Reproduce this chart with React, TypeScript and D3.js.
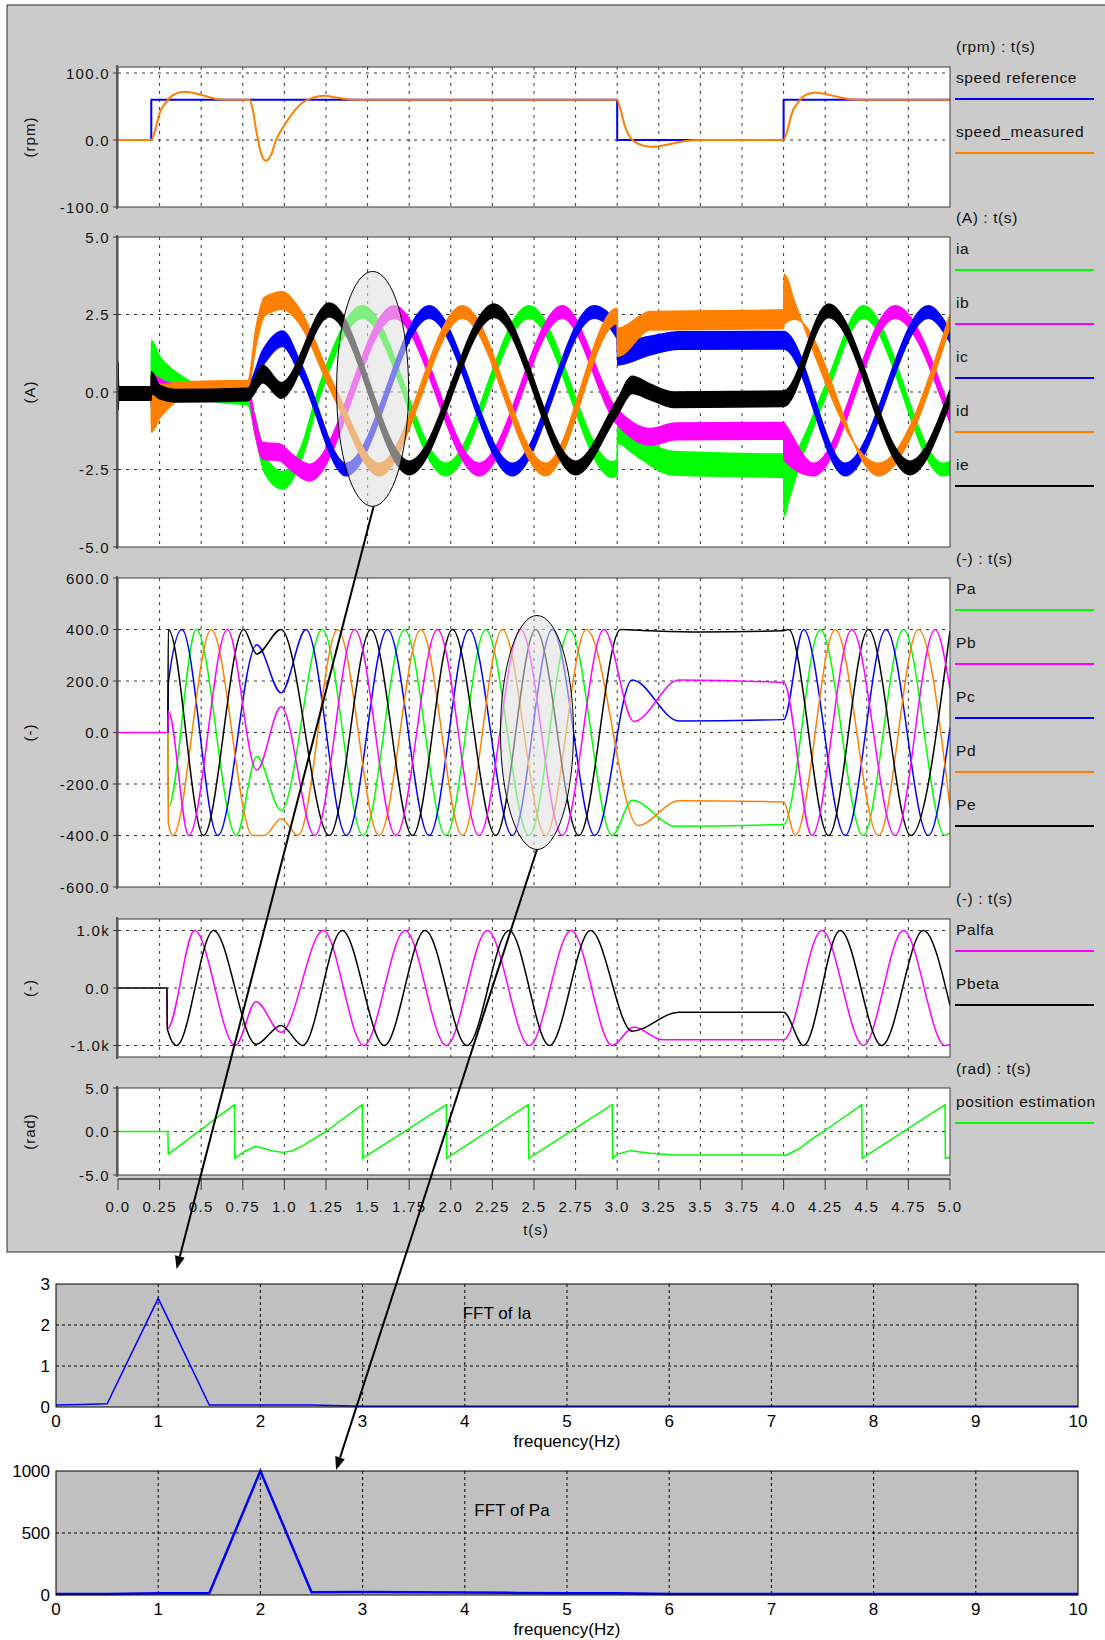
import * as d3 from "d3";

type P = [number, number];
type B = [number, number, number]; // [t, centre, ripple half-width]

// ---------- time axis ----------
const timeTicks = [0, 0.25, 0.5, 0.75, 1, 1.25, 1.5, 1.75, 2, 2.25, 2.5, 2.75, 3, 3.25, 3.5, 3.75, 4, 4.25, 4.5, 4.75, 5];
const timeTickLabels = ["0.0", "0.25", "0.5", "0.75", "1.0", "1.25", "1.5", "1.75", "2.0", "2.25", "2.5", "2.75", "3.0", "3.25", "3.5", "3.75", "4.0", "4.25", "4.5", "4.75", "5.0"];

// ---------- speed (rpm) ----------
const speedTicks = [100, 0, -100];
const speedTickLabels = ["100.0", "0.0", "-100.0"];
const speedReference: P[] = [[0, 0], [0.2, 0], [0.2, 60], [3.0, 60], [3.0, 0], [4.0, 0], [4.0, 60], [5.0, 60]];
const speedMeasured: P[] = [
  [0, 0], [0.2, 0], [0.22, 12], [0.25, 40], [0.29, 57], [0.33, 67], [0.4, 72], [0.49, 68], [0.6, 61], [0.7, 60],
  [0.79, 60], [0.81, 45], [0.83, 15], [0.86, -20], [0.89, -31], [0.92, -22], [0.95, 0], [1.0, 22], [1.05, 40],
  [1.1, 54], [1.17, 63], [1.24, 66], [1.32, 63], [1.42, 60], [3.0, 60], [3.02, 45], [3.05, 18], [3.08, 3],
  [3.13, -6], [3.2, -10], [3.3, -7], [3.4, -2], [3.5, 0], [4.0, 0], [4.02, 12], [4.05, 40], [4.09, 57],
  [4.13, 67], [4.19, 71], [4.28, 67], [4.4, 61], [4.5, 60], [5.0, 60],
];

// ---------- phase currents (A) ----------
const currentTicks = [5, 2.5, 0, -2.5, -5];
const currentTickLabels = ["5.0", "2.5", "0.0", "-2.5", "-5.0"];
const ia: B[] = [
  [0, -0.05, 0.2], [0.199, -0.05, 0.2], [0.201, 1.0, 0.65], [0.25, 0.8, 0.35], [0.3, 0.55, 0.3], [0.4, 0.25, 0.2],
  [0.5, 0.02, 0.15], [0.6, -0.2, 0.12], [0.78, -0.3, 0.12], [0.83, -1.2, 0.3], [0.88, -2.3, 0.3], [0.99, -2.85, 0.28],
  [1.1, -2.0, 0.22], [1.21, 0, 0.2], [1.47, 2.58, 0.2], [1.97, -2.5, 0.2], [2.47, 2.58, 0.2], [2.97, -2.5, 0.25],
  [2.999, -2.45, 0.25], [3.003, -1.3, 0.35], [3.1, -1.65, 0.35], [3.34, -2.3, 0.38], [4.0, -2.38, 0.38],
  [4.003, -2.6, 1.4], [4.03, -2.9, 0.6], [4.1, -2.0, 0.3], [4.25, 0, 0.2], [4.48, 2.58, 0.2], [4.96, -2.5, 0.2], [5.0, -2.45, 0.2],
];
const ib: B[] = [
  [0, -0.05, 0.2], [0.199, -0.05, 0.2], [0.201, 0.3, 0.25], [0.3, 0.15, 0.15], [0.5, 0.1, 0.1], [0.78, 0.1, 0.12],
  [0.82, -1.0, 0.25], [0.87, -1.9, 0.27], [0.97, -1.95, 0.27], [1.05, -2.3, 0.27], [1.15, -2.6, 0.27], [1.66, 2.58, 0.2],
  [2.17, -2.5, 0.2], [2.67, 2.58, 0.2], [3.0, -0.8, 0.25], [3.2, -1.45, 0.27], [3.35, -1.27, 0.27], [4.0, -1.25, 0.27],
  [4.003, -1.6, 0.6], [4.18, -2.5, 0.2], [4.67, 2.58, 0.2], [5.0, -0.8, 0.2],
];
const ic: B[] = [
  [0, -0.05, 0.2], [0.199, -0.05, 0.2], [0.201, -0.25, 0.25], [0.25, -0.05, 0.15], [0.4, 0.08, 0.1], [0.78, 0.12, 0.12],
  [0.87, 1.1, 0.25], [0.99, 1.72, 0.25], [1.1, 0.7, 0.22], [1.37, -2.5, 0.2], [1.87, 2.58, 0.2], [2.37, -2.5, 0.2],
  [2.86, 2.58, 0.2], [2.999, 1.95, 0.22], [3.003, 1.25, 0.38], [3.2, 1.5, 0.3], [3.37, 1.66, 0.28], [4.0, 1.67, 0.28],
  [4.37, -2.5, 0.2], [4.87, 2.58, 0.2], [5.0, 1.8, 0.2],
];
const id: B[] = [
  [0, -0.05, 0.2], [0.199, -0.05, 0.2], [0.201, -0.5, 0.8], [0.25, -0.3, 0.55], [0.35, 0.0, 0.3], [0.5, 0.2, 0.15],
  [0.78, 0.25, 0.12], [0.83, 1.8, 0.3], [0.88, 2.75, 0.3], [0.99, 2.95, 0.28], [1.07, 2.6, 0.25], [1.3, 0, 0.2],
  [1.57, -2.5, 0.2], [2.07, 2.58, 0.2], [2.57, -2.5, 0.2], [2.999, 2.45, 0.25], [3.003, 1.6, 0.45], [3.2, 2.3, 0.3],
  [4.0, 2.35, 0.3], [4.003, 3.0, 0.8], [4.07, 2.6, 0.25], [4.57, -2.5, 0.2], [5.0, 2.3, 0.2],
];
const ie: B[] = [
  [0, 0.2, 0.78], [0.004, -0.05, 0.22], [0.199, -0.05, 0.22], [0.201, 0.3, 0.35], [0.25, 0.0, 0.22], [0.35, -0.12, 0.2],
  [0.78, -0.08, 0.2], [0.87, 0.58, 0.28], [0.98, 0.05, 0.25], [1.27, 2.65, 0.22], [1.75, -2.45, 0.22], [2.26, 2.62, 0.22],
  [2.75, -2.45, 0.22], [3.0, -0.5, 0.25], [3.09, 0.23, 0.28], [3.2, 0.0, 0.25], [3.34, -0.25, 0.25], [4.0, -0.22, 0.25],
  [4.27, 2.62, 0.22], [4.76, -2.45, 0.22], [5.0, -0.15, 0.22],
];

// ---------- phase powers (-) ----------
const powerTicks = [600, 400, 200, 0, -200, -400, -600];
const powerTickLabels = ["600.0", "400.0", "200.0", "0.0", "-200.0", "-400.0", "-600.0"];
const Pa: P[] = [
  [0.3, 0], [0.302, -290], [0.47, 400], [0.711, -400], [0.834, -93], [0.98, -303], [1.228, 400], [1.473, -400],
  [1.722, 400], [1.97, -400], [2.21, 400], [2.47, -400], [2.715, 400], [2.97, -400], [3.09, -263], [3.35, -364],
  [4.0, -357], [4.22, 400], [4.478, -400], [4.72, 400], [4.97, -400], [5.0, -390],
];
const Pb: P[] = [
  [0, 0], [0.3, 0], [0.302, 83], [0.425, -400], [0.657, 400], [0.834, -146], [0.98, 100], [1.182, -400], [1.423, 400],
  [1.67, -400], [1.92, 400], [2.17, -400], [2.42, 400], [2.67, -400], [2.92, 400], [3.1, 43], [3.37, 204], [4.0, 194],
  [4.17, -400], [4.41, 400], [4.67, -400], [4.91, 400], [5.0, 170],
];
const Pc: P[] = [
  [0.3, 0], [0.302, 190], [0.384, 400], [0.6, -400], [0.834, 341], [0.98, 154], [1.13, 400], [1.373, -400], [1.62, 400],
  [1.87, -400], [2.11, 400], [2.37, -400], [2.61, 400], [2.866, -400], [3.09, 204], [3.37, 45], [4.0, 50], [4.12, 400],
  [4.37, -400], [4.615, 400], [4.87, -400], [5.0, 20],
];
const Pd: P[] = [
  [0.3, 0], [0.302, -350], [0.33, -400], [0.56, 400], [0.81, -400], [0.88, -400], [0.98, -335], [1.082, -400],
  [1.32, 400], [1.569, -400], [1.82, 400], [2.07, -400], [2.31, 400], [2.57, -400], [2.815, 400], [3.125, -361],
  [3.37, -265], [4.0, -270], [4.07, -400], [4.31, 400], [4.57, -400], [4.81, 400], [5.0, -290],
];
const Pe: P[] = [
  [0.3, 0], [0.302, 400], [0.514, -400], [0.755, 400], [0.834, 305], [0.98, 400], [1.27, -400], [1.52, 400], [1.77, -400],
  [2.01, 400], [2.27, -400], [2.51, 400], [2.77, -400], [3.02, 400], [3.2, 395], [3.5, 390], [4.0, 395], [4.03, 400],
  [4.27, -400], [4.51, 400], [4.765, -400], [5.0, 395],
];

// ---------- alpha / beta (-) ----------
const alphaBetaTicks = [1000, 0, -1000];
const alphaBetaTickLabels = ["1.0k", "0.0", "-1.0k"];
const Palfa: P[] = [
  [0.294, 0], [0.296, -710], [0.46, 1000], [0.705, -1000], [0.83, -240], [0.98, -770], [1.233, 1000], [1.477, -1000],
  [1.725, 1000], [1.973, -1000], [2.22, 1000], [2.472, -1000], [2.723, 1000], [2.97, -1000], [3.1, -680], [3.27, -900],
  [4.0, -900], [4.23, 1000], [4.48, -1000], [4.72, 1000], [4.97, -1000], [5.0, -980],
];
const Pbeta: P[] = [
  [0, 0], [0.294, 0], [0.296, -710], [0.352, -1000], [0.574, 1000], [0.83, -980], [0.98, -650], [1.11, -1000],
  [1.347, 1000], [1.6, -1000], [1.846, 1000], [2.097, -1000], [2.35, 1000], [2.593, -1000], [2.84, 1000], [3.09, -750],
  [3.37, -420], [4.0, -420], [4.12, -1000], [4.34, 1000], [4.59, -1000], [4.84, 1000], [5.0, -300],
];

// ---------- position estimation (rad) ----------
const positionTicks = [5, 0, -5];
const positionTickLabels = ["5.0", "0.0", "-5.0"];
const positionEstimation: P[] = [
  [0, 0], [0.3, 0], [0.302, -2.6], [0.7, 3.1], [0.702, -3.1], [0.76, -2.3], [0.825, -1.72], [0.87, -1.9], [0.93, -2.25],
  [0.99, -2.4], [1.05, -2.2], [1.12, -1.5], [1.25, 0], [1.468, 3.1], [1.47, -3.1], [1.973, 3.1], [1.975, -3.1],
  [2.466, 3.1], [2.468, -3.1], [2.97, 3.1], [2.972, -3.1], [3.0, -2.6], [3.08, -2.2], [3.2, -2.5], [3.34, -2.7],
  [4.02, -2.7], [4.1, -1.9], [4.16, -1.0], [4.24, 0], [4.47, 3.1], [4.472, -3.1], [4.97, 3.1], [4.972, -3.1], [5.0, -2.95],
];

// ---------- FFT ----------
const freqTicks = [0, 1, 2, 3, 4, 5, 6, 7, 8, 9, 10];
const fftIaTicks = [0, 1, 2, 3];
const fftPaTicks = [0, 500, 1000];
const fftIa: P[] = [
  [0, 0.05], [0.25, 0.06], [0.5, 0.08], [1, 2.65], [1.5, 0.05], [2, 0.05], [2.5, 0.05], [3, 0.02], [4, 0.02],
  [5, 0.02], [6, 0.02], [7, 0.02], [8, 0.02], [9, 0.02], [10, 0.02],
];
const fftPa: P[] = [
  [0, 8], [0.5, 8], [1, 15], [1.5, 15], [2, 1000], [2.5, 22], [3, 25], [3.5, 23], [4, 20], [4.5, 17], [5, 15],
  [5.5, 14], [6, 8], [7, 8], [8, 8], [9, 8], [10, 8],
];

const BLUE = "#0000ff", ORANGE = "#ff8000", GREEN = "#00ff00", MAGENTA = "#ff00ff", BLACK = "#000000";
const FONT = "'Liberation Sans', Arial, sans-serif";

const X0 = 118, X1 = 950;
const x = d3.scaleLinear().domain([0, 5]).range([X0, X1]);

type Series = { name?: string; color: string; pts?: P[]; band?: B[]; curve: any; width: number; legend: boolean };

const panels = [
  {
    key: "speed", frameTop: 67, frameBottom: 207, domain: [-100, 100], range: [207, 73],
    ticks: speedTicks, labels: speedTickLabels, unit: "(rpm)", title: "(rpm) : t(s)", titleY: 46, firstY: 77,
    series: [
      { name: "speed reference", color: BLUE, pts: speedReference, curve: d3.curveLinear, width: 2, legend: true },
      { name: "speed_measured", color: ORANGE, pts: speedMeasured, curve: d3.curveMonotoneX, width: 2, legend: true },
    ] as Series[],
  },
  {
    key: "current", frameTop: 237, frameBottom: 547, domain: [-5, 5], range: [547, 237],
    ticks: currentTicks, labels: currentTickLabels, unit: "(A)", title: "(A) : t(s)", titleY: 217, firstY: 248,
    series: [
      { name: "ia", color: GREEN, band: ia, curve: d3.curveMonotoneX, width: 1, legend: true },
      { name: "ib", color: MAGENTA, band: ib, curve: d3.curveMonotoneX, width: 1, legend: true },
      { name: "ic", color: BLUE, band: ic, curve: d3.curveMonotoneX, width: 1, legend: true },
      { name: "id", color: ORANGE, band: id, curve: d3.curveMonotoneX, width: 1, legend: true },
      { name: "ie", color: BLACK, band: ie, curve: d3.curveMonotoneX, width: 1, legend: true },
    ] as Series[],
  },
  {
    key: "power", frameTop: 578, frameBottom: 887, domain: [-600, 600], range: [887, 578],
    ticks: powerTicks, labels: powerTickLabels, unit: "(-)", title: "(-) : t(s)", titleY: 558, firstY: 588,
    series: [
      { name: "Pa", color: GREEN, pts: Pa, curve: d3.curveMonotoneX, width: 1.5, legend: true },
      { name: "Pc", color: BLUE, pts: Pc, curve: d3.curveMonotoneX, width: 1.5, legend: false },
      { name: "Pd", color: ORANGE, pts: Pd, curve: d3.curveMonotoneX, width: 1.5, legend: false },
      { name: "Pe", color: BLACK, pts: Pe, curve: d3.curveMonotoneX, width: 1.5, legend: false },
      { name: "Pb", color: MAGENTA, pts: Pb, curve: d3.curveMonotoneX, width: 1.5, legend: false },
    ] as Series[],
    legendItems: [["Pa", GREEN], ["Pb", MAGENTA], ["Pc", BLUE], ["Pd", ORANGE], ["Pe", BLACK]],
  },
  {
    key: "ab", frameTop: 919, frameBottom: 1057, domain: [-1200, 1200], range: [1057, 919],
    ticks: alphaBetaTicks, labels: alphaBetaTickLabels, unit: "(-)", title: "(-) : t(s)", titleY: 898, firstY: 929,
    series: [
      { name: "Palfa", color: MAGENTA, pts: Palfa, curve: d3.curveMonotoneX, width: 1.5, legend: true },
      { name: "Pbeta", color: BLACK, pts: Pbeta, curve: d3.curveMonotoneX, width: 1.5, legend: true },
    ] as Series[],
  },
  {
    key: "pos", frameTop: 1088, frameBottom: 1175, domain: [-5, 5], range: [1175, 1088],
    ticks: positionTicks, labels: positionTickLabels, unit: "(rad)", title: "(rad) : t(s)", titleY: 1068, firstY: 1101,
    series: [
      { name: "position estimation", color: GREEN, pts: positionEstimation, curve: d3.curveLinear, width: 1.5, legend: true },
    ] as Series[],
  },
];

function Panel({ p }: { p: any }) {
  const y = d3.scaleLinear().domain(p.domain).range(p.range);
  const clipId = `clip-${p.key}`;
  const legendItems: [string, string][] = p.legendItems ?? p.series.filter((s: Series) => s.legend).map((s: Series) => [s.name, s.color]);
  return (
    <g>
      <defs>
        <clipPath id={clipId}>
          <rect x={X0} y={p.frameTop} width={X1 - X0} height={p.frameBottom - p.frameTop} />
        </clipPath>
      </defs>
      <rect x={X0} y={p.frameTop} width={X1 - X0} height={p.frameBottom - p.frameTop} fill="#fff" />
      {/* grid */}
      {timeTicks.filter(t => t > 0 && t < 5).map(t => (
        <line key={"v" + t} x1={x(t)} x2={x(t)} y1={p.frameTop} y2={p.frameBottom} stroke="#000" strokeWidth={1} strokeDasharray="3,5" opacity={0.8} />
      ))}
      {p.ticks.filter((v: number) => y(v) > p.frameTop + 1 && y(v) < p.frameBottom - 1).map((v: number) => (
        <line key={"h" + v} x1={X0} x2={X1} y1={y(v)} y2={y(v)} stroke="#000" strokeWidth={1} strokeDasharray="3,5" opacity={0.8} />
      ))}
      <g clipPath={`url(#${clipId})`}>
        {p.series.map((s: Series) => {
          if (s.band) {
            const area = d3.area<B>().x(d => x(d[0])).y0(d => y(d[1] - d[2])).y1(d => y(d[1] + d[2])).curve(s.curve);
            return <path key={s.name} d={area(s.band) ?? ""} fill={s.color} stroke={s.color} strokeWidth={1.5} />;
          }
          const line = d3.line<P>().x(d => x(d[0])).y(d => y(d[1])).curve(s.curve);
          return <path key={s.name} d={line(s.pts!) ?? ""} fill="none" stroke={s.color} strokeWidth={s.width} strokeLinejoin="round" />;
        })}
      </g>
      <rect x={X0} y={p.frameTop} width={X1 - X0} height={p.frameBottom - p.frameTop} fill="none" stroke="#3a3a3a" strokeWidth={1} />
      <line x1={X0 - 1} x2={X0 - 1} y1={p.frameTop - 2} y2={p.frameBottom + 2} stroke="#5a5a5a" strokeWidth={2} />
      {p.ticks.map((v: number, i: number) => (
        <g key={"t" + v}>
          <line x1={X0 - 5} x2={X0} y1={y(v)} y2={y(v)} stroke="#3a3a3a" />
          <text x={110} y={y(v) + 5.5} textAnchor="end" fontSize={15} letterSpacing={1.3} fill="#111">{p.labels[i]}</text>
        </g>
      ))}
      <text transform={`translate(35,${(p.frameTop + p.frameBottom) / 2}) rotate(-90)`} textAnchor="middle" fontSize={15} letterSpacing={1} fill="#111">{p.unit}</text>
      {/* legend */}
      <text x={956} y={p.titleY + 5.5} fontSize={15.5} letterSpacing={0.6} fill="#111">{p.title}</text>
      {legendItems.map(([name, color], i) => (
        <g key={name}>
          <text x={956} y={p.firstY + 54 * i + 5.5} fontSize={15.5} letterSpacing={0.6} fill="#111">{name}</text>
          <line x1={955} x2={1094} y1={p.firstY + 54 * i + 22} y2={p.firstY + 54 * i + 22} stroke={color} strokeWidth={2} />
        </g>
      ))}
    </g>
  );
}

function FftPanel({ top, bottom, domain, ticks, data, title, titleX, titleY, width }: any) {
  const fx = d3.scaleLinear().domain([0, 10]).range([56, 1078]);
  const fy = d3.scaleLinear().domain(domain).range([bottom, top]);
  const line = d3.line<P>().x(d => fx(d[0])).y(d => fy(d[1]));
  return (
    <g>
      <rect x={56} y={top} width={1022} height={bottom - top} fill="#c0c0c0" />
      {freqTicks.filter(f => f > 0 && f < 10).map(f => (
        <line key={"v" + f} x1={fx(f)} x2={fx(f)} y1={top} y2={bottom} stroke="#000" strokeDasharray="3,3" strokeWidth={1} />
      ))}
      {ticks.filter((v: number) => v > domain[0] && v < domain[1]).map((v: number) => (
        <line key={"h" + v} x1={56} x2={1078} y1={fy(v)} y2={fy(v)} stroke="#000" strokeDasharray="3,3" strokeWidth={1} />
      ))}
      <path d={line(data) ?? ""} fill="none" stroke={BLUE} strokeWidth={width} />
      <rect x={56} y={top} width={1022} height={bottom - top} fill="none" stroke="#000" strokeWidth={1} />
      {ticks.map((v: number) => (
        <text key={"yl" + v} x={50} y={fy(v) + 6} textAnchor="end" fontSize={17} fill="#000">{v}</text>
      ))}
      {freqTicks.map(f => (
        <text key={"xl" + f} x={fx(f)} y={bottom + 20} textAnchor="middle" fontSize={17} fill="#000">{f}</text>
      ))}
      <text x={fx(5)} y={bottom + 40} textAnchor="middle" fontSize={17} fill="#000">frequency(Hz)</text>
      <text x={titleX} y={titleY} textAnchor="middle" fontSize={17} fill="#000">{title}</text>
    </g>
  );
}

function Arrow({ from, to }: { from: P; to: P }) {
  const dx = to[0] - from[0], dy = to[1] - from[1];
  const len = Math.hypot(dx, dy);
  const ux = dx / len, uy = dy / len;
  const hl = 13, hw = 5;
  const bx = to[0] - ux * hl, by = to[1] - uy * hl;
  const pts = `${to[0]},${to[1]} ${bx - uy * hw},${by + ux * hw} ${bx + uy * hw},${by - ux * hw}`;
  return (
    <g>
      <line x1={from[0]} y1={from[1]} x2={bx} y2={by} stroke="#000" strokeWidth={2} />
      <polygon points={pts} fill="#000" />
    </g>
  );
}

export default function App() {
  const yCur = d3.scaleLinear().domain([-5, 5]).range([547, 237]);
  const yPow = d3.scaleLinear().domain([-600, 600]).range([887, 578]);
  const fx = d3.scaleLinear().domain([0, 10]).range([56, 1078]);
  const e1 = { cx: x(1.53), cy: yCur(0.1), rx: 36, ry: 117.5 };
  const e2 = { cx: x(2.518), cy: yPow(0), rx: 36.5, ry: 117 };
  return (
    <svg width={1105} height={1640} style={{ position: "absolute", left: 0, top: 0, background: "#fff" }} fontFamily={FONT}>
      <rect x={0} y={0} width={1105} height={1640} fill="#fff" />
      <rect x={7} y={5} width={1110} height={1247} fill="#cbcbcb" stroke="#2a2a2a" strokeWidth={1} />
      {panels.map(p => <Panel key={p.key} p={p} />)}
      {/* shared time axis */}
      <line x1={X0} x2={X1} y1={1179} y2={1179} stroke="#3a3a3a" strokeWidth={1.5} />
      {timeTicks.map((t, i) => (
        <g key={"tt" + t}>
          <line x1={x(t)} x2={x(t)} y1={1179} y2={1190} stroke="#3a3a3a" />
          <text x={x(t)} y={1212} textAnchor="middle" fontSize={15} letterSpacing={1.3} fill="#111">{timeTickLabels[i]}</text>
        </g>
      ))}
      <text x={536} y={1235} textAnchor="middle" fontSize={15} letterSpacing={1} fill="#111">t(s)</text>
      {/* highlight ellipses */}
      <ellipse cx={e1.cx} cy={e1.cy} rx={e1.rx} ry={e1.ry} fill="#e0e0e0" fillOpacity={0.57} stroke="#000" strokeWidth={1} />
      <ellipse cx={e2.cx} cy={e2.cy} rx={e2.rx} ry={e2.ry} fill="#e0e0e0" fillOpacity={0.57} stroke="#000" strokeWidth={1} />
      <FftPanel top={1284} bottom={1407} domain={[0, 3]} ticks={fftIaTicks} data={fftIa} title="FFT of Ia" titleX={497} titleY={1319} width={1.5} />
      <FftPanel top={1471} bottom={1595} domain={[0, 1000]} ticks={fftPaTicks} data={fftPa} title="FFT of Pa" titleX={512} titleY={1516} width={2.5} />
      <Arrow from={[e1.cx + 1, e1.cy + e1.ry]} to={[fx(1.18), 1269]} />
      <Arrow from={[e2.cx, e2.cy + e2.ry]} to={[fx(2.74), 1470]} />
    </svg>
  );
}
